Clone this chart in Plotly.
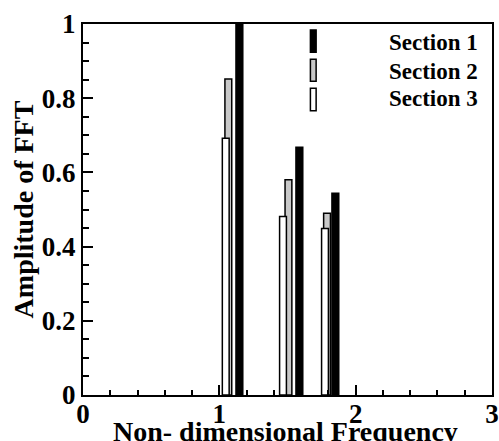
import plotly.graph_objects as go

# Data
series_names = ["Section 1", "Section 2", "Section 3"]
s1_x = [1.147, 1.587, 1.851]
s1_y = [1.0, 0.668, 0.544]
s2_x = [1.066, 1.507, 1.790]
s2_y = [0.852, 0.580, 0.490]
s3_x = [1.047, 1.467, 1.775]
s3_y = [0.692, 0.481, 0.449]
fills = ["#000000", "#c8c8c8", "#ffffff"]
x_title = "Non- dimensional Frequency"
y_title = "Amplitude of FFT"

FONT = "Liberation Serif"

fig = go.Figure()
for name, xs, ys, col in zip(series_names, [s1_x, s2_x, s3_x], [s1_y, s2_y, s3_y], fills):
    fig.add_trace(go.Bar(
        x=xs, y=ys, name=name, width=0.05,
        marker=dict(color=col, line=dict(color="black", width=1.5)),
        showlegend=False,
    ))

# Manual legend: thin vertical swatches + bold text
sw_y = [(0.984, 0.924), (0.905, 0.846), (0.827, 0.766)]
txt_y = [0.951, 0.873, 0.798]
for name, col, (yt, yb), ty in zip(series_names, fills, sw_y, txt_y):
    fig.add_shape(type="rect", xref="paper", yref="paper",
                  x0=0.556, x1=0.570, y0=yb, y1=yt,
                  fillcolor=col, line=dict(color="black", width=1.5))
    fig.add_annotation(xref="paper", yref="paper", x=0.743, y=ty,
                       text="<b>%s</b>" % name, showarrow=False, xanchor="left", yanchor="middle",
                       font=dict(family=FONT, size=23, color="black"))

# x-axis title placed low, partly cut off as in the reference
fig.add_annotation(xref="paper", yref="paper", x=0.496, y=-0.099,
                   text="<b>%s</b>" % x_title, showarrow=False,
                   xanchor="center", yanchor="middle",
                   font=dict(family=FONT, size=28, color="black"))

fig.update_layout(
    width=499, height=441,
    margin=dict(l=83, r=7, t=24, b=46),
    barmode="overlay",
    plot_bgcolor="white", paper_bgcolor="white",
    font=dict(family=FONT, color="black"),
)
fig.update_xaxes(
    range=[0, 3], dtick=1, tick0=0, automargin=False,
    showline=True, mirror=True, linewidth=2, linecolor="black",
    showgrid=False, zeroline=False,
    ticks="inside", ticklen=10, tickwidth=2, tickcolor="black",
    minor=dict(dtick=0.2, ticks="inside", ticklen=5, tickwidth=1.5, tickcolor="black", showgrid=False),
    tickfont=dict(family=FONT, size=27, color="black", weight="bold"),
    ticklabelstandoff=-6,
)
fig.update_yaxes(
    range=[0, 1], dtick=0.2, tick0=0, automargin=False,
    showline=True, mirror=True, linewidth=2, linecolor="black",
    showgrid=False, zeroline=False,
    ticks="inside", ticklen=10, tickwidth=2, tickcolor="black",
    minor=dict(dtick=0.05, ticks="inside", ticklen=6, tickwidth=1.5, tickcolor="black", showgrid=False),
    tickfont=dict(family=FONT, size=27, color="black", weight="bold"),
    title=dict(text="<b>%s</b>" % y_title, standoff=0,
               font=dict(family=FONT, size=28, color="black")),
)

fig.write_html("out.html")
